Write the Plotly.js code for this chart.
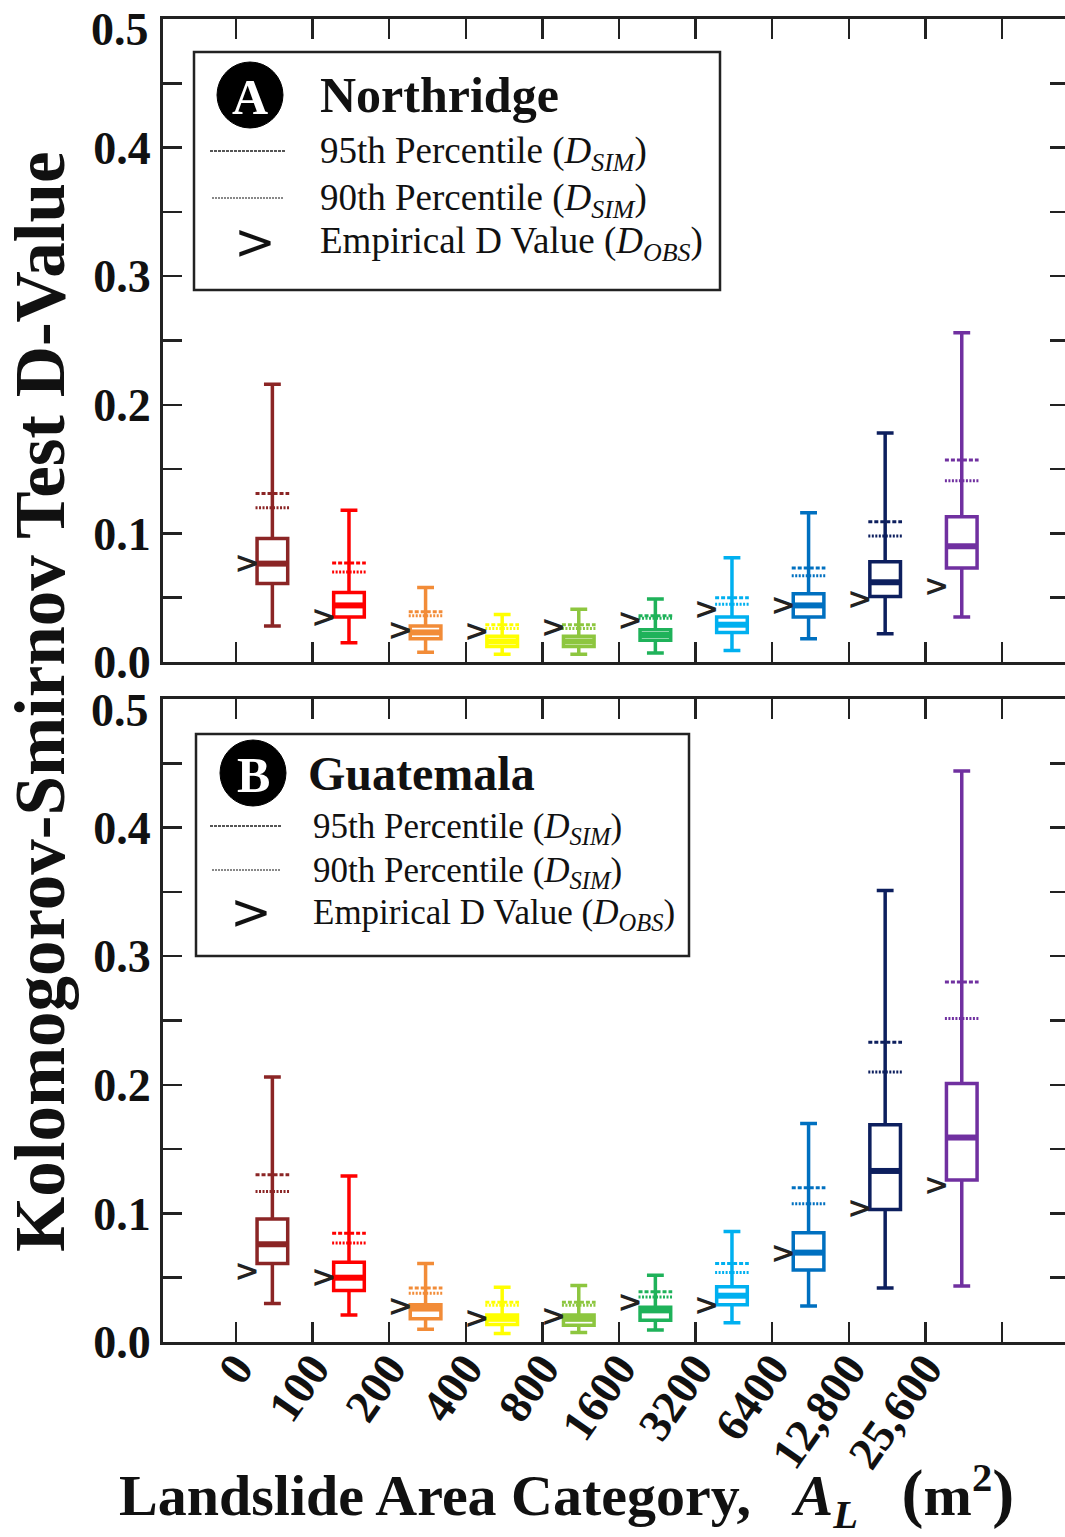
<!DOCTYPE html>
<html>
<head>
<meta charset="utf-8">
<script src="https://cdn.plot.ly/plotly-3.0.1.min.js"></script>
<style>
html,body{margin:0;padding:0;background:#fff;overflow:hidden;}
#chart{width:1075px;height:1537px;}
</style>
</head>
<body>
<div id="chart"></div>
<script>
// ---- Data ----
const categories = ['0','100','200','400','800','1600','3200','6400','12,800','25,600'];
const colors = ['#8B2525','#FF0000','#F28C38','#FFFF00','#8DC63F','#1FB25A','#00B0F0','#0070C0','#0D1F5E','#7030A0'];
const yTickVals = [0, 0.1, 0.2, 0.3, 0.4];
const yTickText = ['0.0', '0.1', '0.2', '0.3', '0.4'];
const yTopLabel = '0.5';

// Panel A: Northridge
const nrUpper = [0.216,0.118,0.058,0.037,0.041,0.049,0.081,0.116,0.178,0.256];
const nrP95   = [0.131,0.077,0.039,0.029,0.029,0.036,0.050,0.073,0.109,0.157];
const nrP90   = [0.120,0.070,0.036,0.026,0.026,0.034,0.045,0.067,0.098,0.141];
const nrQ3    = [0.096,0.054,0.028,0.020,0.020,0.025,0.035,0.053,0.078,0.113];
const nrMed   = [0.0765,0.044,0.023,0.016,0.016,0.021,0.029,0.044,0.062,0.090];
const nrQ1    = [0.061,0.035,0.018,0.012,0.012,0.017,0.023,0.035,0.051,0.073];
const nrLower = [0.028,0.015,0.0075,0.006,0.006,0.007,0.009,0.018,0.022,0.035];
const nrObs   = [0.075,0.033,0.023,0.022,0.025,0.031,0.039,0.042,0.047,0.057];

// Panel B: Guatemala
const gtUpper = [0.206,0.129,0.061,0.0425,0.044,0.052,0.086,0.170,0.351,0.444];
const gtP95   = [0.130,0.0845,0.042,0.031,0.031,0.039,0.061,0.120,0.233,0.280];
const gtP90   = [0.117,0.077,0.038,0.0285,0.0285,0.035,0.054,0.1075,0.210,0.2515];
const gtQ3    = [0.0956,0.062,0.029,0.021,0.021,0.027,0.043,0.085,0.169,0.201];
const gtMed   = [0.076,0.050,0.026,0.018,0.018,0.0246,0.036,0.0695,0.133,0.159];
const gtQ1    = [0.061,0.040,0.018,0.0137,0.013,0.017,0.029,0.056,0.103,0.126];
const gtLower = [0.030,0.021,0.010,0.0067,0.0073,0.0093,0.015,0.028,0.042,0.0435];
const gtObs   = [0.053,0.0487,0.026,0.0166,0.018,0.0295,0.027,0.067,0.1026,0.120];

// ---- Build ----
const pos = categories.map((_, i) => i + 0.475);
const BOXW = 0.40, PHW = 0.22;
const traces = [];

function panel(up, p95, p90, q3, med, q1, lo, obs, xa, ya) {
  categories.forEach((c, i) => {
    traces.push({type:'scatter', mode:'lines', x:[pos[i]-PHW, pos[i]+PHW], y:[p95[i], p95[i]],
      line:{color:colors[i], width:3, dash:'4px,2px'}, xaxis:xa, yaxis:ya, hoverinfo:'skip'});
    traces.push({type:'scatter', mode:'lines', x:[pos[i]-PHW, pos[i]+PHW], y:[p90[i], p90[i]],
      line:{color:colors[i], width:3, dash:'2px,1.5px'}, xaxis:xa, yaxis:ya, hoverinfo:'skip'});
  });
  categories.forEach((c, i) => {
    traces.push({type:'box', x:[pos[i]], q1:[q1[i]], median:[med[i]], q3:[q3[i]],
      lowerfence:[lo[i]], upperfence:[up[i]], width:BOXW, whiskerwidth:0.55,
      boxpoints:false, line:{color:colors[i], width:3.5}, fillcolor:'rgba(255,255,255,1)',
      xaxis:xa, yaxis:ya, hoverinfo:'skip'});
    traces.push({type:'scatter', mode:'lines', x:[pos[i]-BOXW/2, pos[i]+BOXW/2], y:[med[i], med[i]],
      line:{color:colors[i], width:6}, xaxis:xa, yaxis:ya, hoverinfo:'skip'});
  });
  traces.push({type:'scatter', mode:'text', x:pos.map(p => p - 0.33), y:obs,
    text:obs.map(() => '>'), textposition:'middle center',
    textfont:{family:'DejaVu Sans', size:30, weight:'bold', color:'#222'}, xaxis:xa, yaxis:ya, hoverinfo:'skip', cliponaxis:false});
}
panel(nrUpper, nrP95, nrP90, nrQ3, nrMed, nrQ1, nrLower, nrObs, 'x', 'y');
panel(gtUpper, gtP95, gtP90, gtQ3, gtMed, gtQ1, gtLower, gtObs, 'x2', 'y2');

// ---- Layout ----
const W = 1075, H = 1537, ML = 163, MR = 6, MT = 19, MB = 195;
const PW = W - ML - MR, PH = H - MT - MB;
const px = x => (x - ML) / PW;
const py = y => (H - MB - y) / PH;
const axisCol = '#222';
const serif = 'Liberation Serif, Times New Roman, serif';

const tickvals = [0,1,2,3,4,5,6,7,8,9,10];
const ticktext = categories.concat(['']);

function xAxis(anchor, labels) {
  return {anchor:anchor, domain:[0,1], range:[-0.953, 10.875], tickvals:tickvals, ticktext:ticktext,
    showticklabels:labels, tickangle:-55, ticklabelstandoff:-22,
    tickfont:{family:serif, size:46, weight:'bold', color:'#111'},
    ticks:'inside', ticklen:20, tickwidth:2.5, tickcolor:axisCol,
    showline:true, linewidth:3, linecolor:axisCol, mirror:'ticks', showgrid:false, zeroline:false};
}
function yAxis(anchor, domain) {
  return {anchor:anchor, domain:domain, range:[0,0.5], tickvals:yTickVals, ticktext:yTickText,
    tickfont:{family:serif, size:46, weight:'bold', color:'#111'},
    ticks:'inside', ticklen:19, tickwidth:2.5, tickcolor:axisCol,
    minor:{dtick:0.05, tick0:0, ticks:'inside', ticklen:19, tickwidth:2.5, tickcolor:axisCol, showgrid:false},
    showline:true, linewidth:3, linecolor:axisCol, mirror:'ticks', showgrid:false, zeroline:false};
}

const shapes = [];
const annotations = [];

// top "0.5" labels (shifted down inside the panel as in the reference)
annotations.push({xref:'paper', yref:'paper', x:px(151), y:py(30), text:yTopLabel, showarrow:false,
  xanchor:'right', yanchor:'middle', font:{family:serif, size:46, weight:'bold', color:'#111'}});
annotations.push({xref:'paper', yref:'paper', x:px(151), y:py(711), text:yTopLabel, showarrow:false,
  xanchor:'right', yanchor:'middle', font:{family:serif, size:46, weight:'bold', color:'#111'}});

function legendBox(x0, y0, x1, y1, cx, cy, letter, name, nameX, textX, rowYs, lineX0, lineX1, gtX, nameSize, rowSize) {
  shapes.push({type:'rect', xref:'paper', yref:'paper', x0:px(x0), x1:px(x1), y0:py(y1), y1:py(y0),
    line:{color:'#222', width:2.5}, fillcolor:'white', layer:'above'});
  shapes.push({type:'circle', xref:'paper', yref:'paper', xsizemode:'pixel', ysizemode:'pixel',
    xanchor:px(cx), yanchor:py(cy), x0:-33, x1:33, y0:-33, y1:33, fillcolor:'#000', line:{color:'#000', width:1}, layer:'above'});
  annotations.push({xref:'paper', yref:'paper', x:px(cx), y:py(cy+2), text:letter, showarrow:false,
    xanchor:'center', yanchor:'middle', font:{family:serif, size:50, weight:'bold', color:'#fff'}});
  annotations.push({xref:'paper', yref:'paper', x:px(nameX), y:py(cy), text:name, showarrow:false,
    xanchor:'left', yanchor:'middle', font:{family:serif, size:nameSize, weight:'bold', color:'#111'}});
  shapes.push({type:'line', xref:'paper', yref:'paper', x0:px(lineX0), x1:px(lineX1), y0:py(rowYs[0]), y1:py(rowYs[0]),
    line:{color:'#555', width:2, dash:'3px,1px'}, layer:'above'});
  shapes.push({type:'line', xref:'paper', yref:'paper', x0:px(lineX0+2), x1:px(lineX1-2), y0:py(rowYs[1]), y1:py(rowYs[1]),
    line:{color:'#888', width:2, dash:'2px,1px'}, layer:'above'});
  annotations.push({xref:'paper', yref:'paper', x:px(gtX), y:py(rowYs[2]), text:'>', showarrow:false,
    xanchor:'center', yanchor:'middle', font:{family:'DejaVu Sans', size:50, color:'#111'}});
  const labels = ['95th Percentile (<i>D</i><sub><i>SIM</i></sub>)',
                  '90th Percentile (<i>D</i><sub><i>SIM</i></sub>)',
                  'Empirical D Value (<i>D</i><sub><i>OBS</i></sub>)'];
  labels.forEach((t, k) => {
    annotations.push({xref:'paper', yref:'paper', x:px(textX), y:py(rowYs[k]+2), text:t, showarrow:false,
      xanchor:'left', yanchor:'middle', font:{family:serif, size:rowSize, color:'#111'}});
  });
}
legendBox(194, 52, 720, 290, 250, 95, 'A', 'Northridge', 318, 318, [151, 198, 242], 210, 285, 255, 50, 37);
legendBox(196, 734, 689, 956, 253, 773, 'B', 'Guatemala', 306, 311, [826, 870, 912], 210, 282, 251, 48, 35);

annotations.push({xref:'paper', yref:'paper', x:px(40), y:py(702), text:'Kolomogorov-Smirnov Test D-Value',
  textangle:-90, showarrow:false, xanchor:'center', yanchor:'middle',
  font:{family:serif, size:71, weight:'bold', color:'#111'}});
annotations.push({xref:'paper', yref:'paper', x:px(117), y:py(1496),
  text:'Landslide Area Category,   <i>A</i><sub><i>L</i></sub>   <span style="font-size:66px">(</span>m<sup>2</sup><span style="font-size:66px">)</span>',
  showarrow:false, xanchor:'left', yanchor:'middle',
  font:{family:serif, size:58, weight:'bold', color:'#111'}});

const layout = {
  width:W, height:H, autosize:false,
  margin:{l:ML, r:MR, t:MT, b:MB, pad:0},
  paper_bgcolor:'white', plot_bgcolor:'white', showlegend:false,
  xaxis:xAxis('y', false), yaxis:yAxis('x', [py(662), 1]),
  xaxis2:xAxis('y2', true), yaxis2:yAxis('x2', [0, py(699)]),
  shapes:shapes, annotations:annotations
};

Plotly.newPlot('chart', traces, layout, {staticPlot:true, displayModeBar:false});
</script>
</body>
</html>
